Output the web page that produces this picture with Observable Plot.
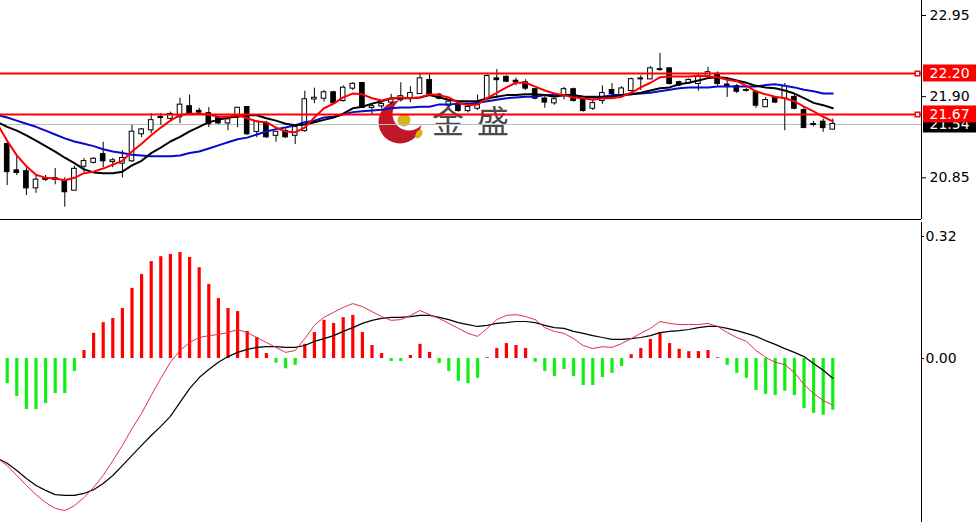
<!DOCTYPE html>
<html><head><meta charset="utf-8">
<script src="https://cdn.jsdelivr.net/npm/d3@7"></script>
<script src="https://cdn.jsdelivr.net/npm/@observablehq/plot@0.6"></script>
<style>
html,body{margin:0;padding:0;background:#fff;}
#wrap{position:relative;width:976px;height:522px;overflow:hidden;font-family:"DejaVu Sans",sans-serif;}
#wm{position:absolute;left:0;top:0;}
#top{position:absolute;left:0;top:0;}
#bot{position:absolute;left:0;top:220px;}
</style></head><body>
<div id="wrap">
  <div id="wm"><svg width="976" height="220">
    <circle cx="400" cy="122" r="21.5" fill="#c0182a"/>
    <circle cx="409" cy="114" r="16.5" fill="#fff"/>
    <circle cx="404" cy="120" r="6.5" fill="#d6b21e"/>
    <ellipse cx="419" cy="134" rx="3" ry="5" fill="#d6b21e" transform="rotate(30 419 134)"/>
    <text x="448" y="124" font-family="Noto Sans CJK SC" font-size="32" fill="#4a4a4a" text-anchor="middle" dominant-baseline="middle">金</text>
    <text x="493" y="124" font-family="Noto Sans CJK SC" font-size="32" fill="#4a4a4a" text-anchor="middle" dominant-baseline="middle">盛</text>
  </svg></div>
  <div id="top"></div>
  <div id="bot"></div>
</div>
<script>
// ---- candles (87 bars) ----
const opens = [21.28,20.94,20.93,20.72,20.84,20.83,20.80,20.69,21.00,21.05,
21.15,21.06,21.04,21.07,21.42,21.47,21.63,21.62,21.64,21.77,
21.71,21.68,21.62,21.56,21.66,21.76,21.45,21.55,21.40,21.45,
21.40,21.46,21.87,21.88,21.95,21.85,22.01,22.07,21.76,21.78,
21.83,21.86,21.88,21.94,22.11,21.92,21.79,21.79,21.72,21.75,
21.87,22.13,22.15,22.10,22.08,21.99,21.87,21.82,21.91,21.99,
21.85,21.75,21.85,21.98,21.91,21.98,22.13,22.13,22.25,22.26,
22.08,22.08,22.07,22.17,22.19,22.05,22.03,21.98,21.95,21.77,
21.88,21.88,21.89,21.72,21.54,21.57,21.48];
const closes = [20.93,20.92,20.72,20.82,20.83,20.84,20.67,20.96,21.06,21.09,
21.07,21.07,21.10,21.44,21.47,21.59,21.63,21.67,21.79,21.68,
21.70,21.55,21.56,21.60,21.75,21.42,21.57,21.38,21.44,21.38,
21.50,21.86,21.88,21.95,21.82,22.01,22.06,21.76,21.77,21.80,
21.86,21.90,21.94,22.13,21.93,21.88,21.83,21.72,21.76,21.79,
22.16,22.12,22.10,22.09,22.01,21.88,21.83,21.86,21.99,21.85,
21.72,21.81,21.94,21.94,22.00,22.12,22.13,22.26,22.25,22.07,
22.05,22.11,22.16,22.21,22.07,22.04,21.97,21.98,21.79,21.85,
21.83,22.03,21.75,21.50,21.54,21.50,21.54];
const highs = [21.33,21.14,20.98,20.88,20.88,20.97,20.85,21.00,21.10,21.11,
21.31,21.10,21.20,21.53,21.49,21.68,21.68,21.70,21.88,21.92,
21.75,21.76,21.64,21.63,21.76,21.77,21.59,21.58,21.45,21.48,
21.53,21.97,22.01,21.98,21.97,22.04,22.08,22.08,21.81,21.85,
21.93,22.08,22.03,22.20,22.20,21.94,21.86,21.81,21.80,21.92,
22.18,22.25,22.17,22.14,22.12,22.00,21.90,21.88,22.02,22.01,
21.87,21.86,22.04,22.07,22.03,22.14,22.17,22.29,22.46,22.27,
22.10,22.13,22.20,22.28,22.22,22.11,22.06,22.01,21.98,21.89,
21.90,22.07,21.93,21.76,21.58,21.61,21.61];
const lows = [20.75,20.88,20.62,20.65,20.80,20.76,20.47,20.68,20.92,21.03,
20.98,20.98,20.85,21.05,21.37,21.42,21.53,21.59,21.55,21.66,
21.66,21.50,21.54,21.46,21.50,21.40,21.37,21.36,21.31,21.36,
21.28,21.44,21.81,21.83,21.81,21.83,21.98,21.75,21.66,21.74,
21.80,21.83,21.82,21.93,21.91,21.86,21.77,21.70,21.69,21.72,
21.87,21.88,22.08,22.04,21.98,21.86,21.75,21.79,21.86,21.83,
21.70,21.72,21.80,21.89,21.88,21.96,21.98,22.12,22.23,22.05,
22.03,22.06,21.97,22.16,22.04,21.89,21.94,21.96,21.75,21.76,
21.81,21.46,21.73,21.50,21.51,21.44,21.47];

// ---- moving averages (index -1 .. 86) ----
const maRed = [21.54,21.33,21.14,21.00,20.89,20.85,20.84,20.82,20.85,20.91,
20.93,20.97,21.02,21.07,21.19,21.29,21.40,21.50,21.59,21.66,
21.68,21.68,21.67,21.64,21.64,21.66,21.62,21.58,21.57,21.50,
21.45,21.44,21.50,21.63,21.75,21.81,21.89,21.94,21.93,21.88,
21.85,21.88,21.89,21.88,21.89,21.93,21.92,21.89,21.82,21.79,
21.80,21.88,21.95,22.02,22.08,22.08,22.03,21.98,21.94,21.92,
21.89,21.88,21.86,21.88,21.88,21.90,21.95,22.02,22.08,22.15,
22.16,22.16,22.16,22.17,22.16,22.15,22.12,22.10,22.04,21.97,
21.93,21.90,21.88,21.84,21.77,21.71,21.64,21.58];
const maBlack = [21.57,21.51,21.46,21.40,21.33,21.26,21.19,21.11,21.04,20.96,
20.92,20.91,20.91,20.93,21.01,21.07,21.17,21.24,21.32,21.38,
21.45,21.51,21.57,21.60,21.63,21.64,21.66,21.66,21.62,21.59,
21.55,21.53,21.54,21.57,21.60,21.63,21.68,21.75,21.77,21.81,
21.84,21.88,21.88,21.88,21.89,21.92,21.89,21.86,21.84,21.84,
21.84,21.88,21.90,21.92,21.92,21.93,21.93,21.92,21.90,21.92,
21.92,21.90,21.89,21.89,21.90,21.92,21.93,21.95,21.98,22.01,
22.02,22.06,22.08,22.11,22.14,22.15,22.14,22.11,22.08,22.04,
22.02,22.01,21.98,21.94,21.88,21.82,21.79,21.75];
const maBlue = [21.66,21.63,21.59,21.55,21.51,21.46,21.41,21.36,21.32,21.29,
21.26,21.22,21.19,21.17,21.15,21.14,21.13,21.13,21.13,21.14,
21.17,21.19,21.23,21.27,21.31,21.35,21.37,21.41,21.45,21.48,
21.50,21.53,21.57,21.59,21.63,21.64,21.67,21.70,21.71,21.72,
21.73,21.75,21.76,21.76,21.77,21.77,21.80,21.80,21.81,21.81,
21.82,21.84,21.86,21.88,21.89,21.90,21.90,21.92,21.92,21.92,
21.92,21.90,21.90,21.90,21.92,21.92,21.93,21.94,21.95,21.97,
21.99,22.01,22.02,22.02,22.02,22.03,22.03,22.03,22.03,22.03,
22.05,22.06,22.04,22.02,21.99,21.97,21.94,21.94];

const levels = [22.20, 21.67];
const lastPrice = [21.54];
const priceTicks = [20.85, 21.90, 22.95];

// ---- MACD ----
const macdHist = [-0.066,-0.100,-0.134,-0.134,-0.118,-0.092,-0.092,-0.034,0.021,0.066,
0.094,0.105,0.131,0.184,0.220,0.254,0.267,0.273,0.278,0.265,
0.238,0.194,0.157,0.131,0.123,0.071,0.055,0.013,-0.012,-0.027,
-0.018,0.037,0.068,0.100,0.092,0.107,0.113,0.068,0.034,0.013,
-0.008,-0.008,0.008,0.037,0.016,-0.013,-0.034,-0.060,-0.066,-0.052,
0.002,0.026,0.039,0.034,0.026,-0.010,-0.034,-0.047,-0.029,-0.047,
-0.071,-0.071,-0.050,-0.039,-0.021,0.010,0.026,0.050,0.068,0.039,
0.024,0.018,0.018,0.021,0.002,-0.018,-0.039,-0.052,-0.084,-0.094,
-0.097,-0.086,-0.097,-0.131,-0.144,-0.149,-0.136];
const macdRed = [-0.262,-0.281,-0.307,-0.333,-0.357,-0.378,-0.393,-0.399,-0.386,-0.365,
-0.338,-0.307,-0.268,-0.228,-0.184,-0.144,-0.097,-0.052,-0.010,0.021,
0.042,0.055,0.060,0.063,0.068,0.076,0.068,0.055,0.042,0.029,
0.016,0.021,0.052,0.087,0.108,0.121,0.134,0.144,0.136,0.123,
0.110,0.100,0.102,0.113,0.126,0.115,0.105,0.092,0.079,0.066,
0.058,0.079,0.102,0.113,0.115,0.110,0.102,0.081,0.071,0.066,
0.052,0.034,0.026,0.031,0.029,0.039,0.052,0.066,0.079,0.097,
0.092,0.089,0.089,0.089,0.092,0.084,0.068,0.055,0.045,0.021,
0.003,-0.010,-0.016,-0.037,-0.068,-0.092,-0.110,-0.123];
const macdBlack = [-0.262,-0.275,-0.294,-0.315,-0.333,-0.346,-0.357,-0.359,-0.359,-0.354,
-0.344,-0.328,-0.307,-0.281,-0.254,-0.228,-0.202,-0.178,-0.152,-0.115,
-0.079,-0.050,-0.029,-0.010,0.005,0.016,0.024,0.029,0.031,0.031,
0.029,0.029,0.034,0.045,0.052,0.060,0.071,0.081,0.092,0.100,
0.105,0.108,0.108,0.110,0.113,0.113,0.108,0.102,0.094,0.089,
0.084,0.087,0.092,0.094,0.097,0.097,0.094,0.087,0.081,0.079,
0.071,0.066,0.060,0.055,0.050,0.050,0.052,0.055,0.060,0.068,
0.071,0.073,0.076,0.081,0.084,0.084,0.079,0.073,0.066,0.058,
0.047,0.037,0.026,0.016,0.005,-0.013,-0.031,-0.052];
const macdTicks = [0.00, 0.32];

// ---- tables ----
const candles = opens.map((o, i) => ({i, o, c: closes[i], h: highs[i], l: lows[i]}));
const lineRows = arr => arr.map((v, k) => ({i: k - 1, v}));
const histRows = macdHist.map((v, i) => ({i, v}));

const xDomain = [-0.698, 95.24];
const yTop = [20.311, 23.144];
const yBot = [-0.4302, 0.3567];
const fmt = d => d.toFixed(2);
const styleBase = {background: "transparent", fontFamily: "DejaVu Sans", fontSize: "14px", color: "#000"};

const topChart = Plot.plot({
  width: 976, height: 220, marginTop: 0, marginBottom: 1, marginLeft: 0, marginRight: 55,
  style: styleBase,
  x: {type: "linear", domain: xDomain, axis: null},
  y: {domain: yTop, axis: "right", ticks: priceTicks, tickFormat: fmt, tickSize: 4, tickPadding: 4, label: null},
  color: {type: "identity"},
  marks: [
    Plot.ruleY(lastPrice, {stroke: "#bdbdbd", strokeWidth: 1}),
    Plot.ruleX(candles, {x: "i", y1: "l", y2: "h", stroke: "#000", strokeWidth: 1}),
    Plot.rect(candles, {x1: d => d.i - 0.24, x2: d => d.i + 0.24, y1: "o", y2: "c",
      insetTop: -0.5, insetBottom: -0.5,
      fill: d => d.c >= d.o ? "#ffffff" : "#000000", stroke: "#000", strokeWidth: 1}),
    Plot.line(lineRows(maBlue), {x: "i", y: "v", stroke: "#0a0ac8", strokeWidth: 2}),
    Plot.line(lineRows(maBlack), {x: "i", y: "v", stroke: "#000", strokeWidth: 2}),
    Plot.line(lineRows(maRed), {x: "i", y: "v", stroke: "#ff0000", strokeWidth: 2}),
    Plot.ruleY(levels, {x1: xDomain[0], x2: xDomain[1], stroke: "#ff0000", strokeWidth: 2}),
    Plot.dot(levels, {x: xDomain[1], y: d => d, dx: -4, symbol: "square", r: 2.6, fill: "#fff", stroke: "#ff0000", strokeWidth: 1.5}),
    Plot.ruleX([xDomain[1]], {stroke: "#000", strokeWidth: 1}),
    Plot.ruleY([yTop[0]], {stroke: "#000", strokeWidth: 1}),
    Plot.rect(lastPrice, {x1: xDomain[1], x2: xDomain[1], y1: d => d, y2: d => d,
      insetLeft: 2, insetRight: -55, insetTop: -8.5, insetBottom: -8.5, fill: "#000"}),
    Plot.text(lastPrice, {x: xDomain[1], y: d => d, text: fmt, dx: 8, textAnchor: "start", fill: "#fff", fontSize: 14}),
    Plot.rect(levels, {x1: xDomain[1], x2: xDomain[1], y1: d => d, y2: d => d,
      insetLeft: 2, insetRight: -55, insetTop: -8.5, insetBottom: -8.5, fill: "#ff0000"}),
    Plot.text(levels, {x: xDomain[1], y: d => d, text: fmt, dx: 8, textAnchor: "start", fill: "#fff", fontSize: 14})
  ]
});
document.getElementById("top").appendChild(topChart);

const botChart = Plot.plot({
  width: 976, height: 302, marginTop: 2, marginBottom: 0, marginLeft: 0, marginRight: 55,
  style: styleBase,
  x: {type: "linear", domain: xDomain, axis: null},
  y: {domain: yBot, axis: "right", ticks: macdTicks, tickFormat: fmt, tickSize: 2, tickPadding: 2, label: null},
  color: {type: "identity"},
  marks: [
    Plot.ruleX(histRows, {x: "i", y1: 0, y2: "v", stroke: d => d.v >= 0 ? "#ff0000" : "#11ee11", strokeWidth: 3.2}),
    Plot.line(lineRows(macdBlack), {x: "i", y: "v", stroke: "#000", strokeWidth: 1.2}),
    Plot.line(lineRows(macdRed), {x: "i", y: "v", stroke: "#e0304a", strokeWidth: 1}),
    Plot.ruleX([xDomain[1]], {stroke: "#000", strokeWidth: 1})
  ]
});
document.getElementById("bot").appendChild(botChart);
</script>
</body></html>
